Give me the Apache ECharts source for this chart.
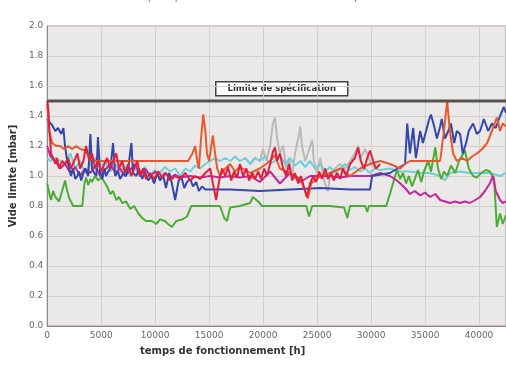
<!DOCTYPE html>
<html>
<head>
<meta charset="utf-8">
<script src="https://cdn.jsdelivr.net/npm/echarts@6/dist/echarts.min.js"></script>
<style>html,body{margin:0;padding:0;background:#fff;}#c{width:506px;height:365px;}</style>
</head>
<body>
<div id="c"></div>
<script>
// ---- data (hours / mbar) ----
const xTicks = [0, 5000, 10000, 15000, 20000, 25000, 30000, 35000, 40000];
const specLimit = 1.5;

const greenHours = [0,200,350,550,750,900,1100,1300,1500,1650,1850,2050,2200,2400,2850,3250,3450,3600,3800,4000,4150,4450,4700,5000,5300,5550,5850,6100,6400,6650,6950,7300,7700,8050,8450,8800,9150,9700,10100,10450,10900,11200,11550,11950,12500,12950,13350,14150,15100,16000,16400,16650,16950,17850,18800,19050,19550,19900,21550,23450,24000,24250,24550,26200,27500,27800,28050,29450,29650,29800,31400,31750,32150,32400,32700,32950,33250,33500,33800,34050,34350,34650,34900,35300,35550,35950,36200,36500,36750,37050,37400,37800,38150,38700,39050,39450,39800,40200,40650,41000,41400,41650,41950,42200,42500];
const greenVide = [0.95,0.88,0.84,0.9,0.86,0.87,0.83,0.88,0.93,0.97,0.9,0.85,0.83,0.8,0.8,0.8,0.95,0.99,0.94,0.98,0.96,1.0,0.97,0.99,0.96,0.93,0.88,0.9,0.84,0.86,0.82,0.83,0.78,0.8,0.75,0.72,0.7,0.7,0.68,0.71,0.7,0.68,0.66,0.7,0.71,0.73,0.8,0.8,0.8,0.8,0.72,0.7,0.79,0.8,0.82,0.86,0.83,0.8,0.8,0.8,0.8,0.73,0.8,0.8,0.79,0.72,0.8,0.8,0.76,0.8,0.8,0.88,0.98,1.04,0.98,1.02,0.95,1.0,0.93,0.98,1.04,0.96,1.03,1.1,1.03,1.19,1.05,0.98,1.03,1.0,1.07,1.02,1.1,1.17,1.05,1.0,0.99,1.02,1.04,1.03,0.98,0.66,0.75,0.68,0.74];

const blueHours = [0,200,450,750,1000,1300,1500,1650,1850,2050,2200,2400,2600,2800,2950,3150,3350,3500,3800,4000,4150,4350,4550,4700,4900,5100,5300,5450,5650,5850,6100,6300,6550,6750,7050,7300,7500,7800,7950,8250,8500,8800,9050,9350,9650,9900,10200,10450,10750,11000,11300,11550,11850,12150,12400,12700,12950,13250,13500,13800,14050,14350,14650,16950,19700,22500,25300,28050,29900,30100,31750,33150,33350,33600,33900,34150,34550,34800,35100,35350,35550,35850,36100,36400,36550,36850,37150,37400,37700,37950,38250,38500,38800,39050,39450,39800,40100,40450,40850,41200,41550,41950,42300,42500];
const blueVide = [1.38,1.36,1.34,1.3,1.32,1.28,1.32,1.2,1.1,1.05,1.0,1.05,0.98,1.0,1.03,0.97,1.02,1.05,1.0,1.28,1.05,1.02,1.0,1.26,1.02,0.98,1.05,1.0,1.03,1.05,1.22,1.0,1.03,0.98,1.02,1.0,1.05,1.22,1.02,1.0,1.05,0.98,1.03,0.97,1.0,0.95,1.02,0.97,1.0,0.92,1.02,0.95,0.84,0.96,1.0,0.92,0.96,0.98,0.93,0.96,0.9,0.93,0.91,0.91,0.9,0.91,0.92,0.91,0.91,1.0,1.02,1.08,1.35,1.15,1.32,1.12,1.3,1.22,1.3,1.37,1.41,1.33,1.25,1.33,1.38,1.25,1.3,1.35,1.22,1.3,1.28,1.15,1.22,1.3,1.35,1.28,1.3,1.38,1.3,1.35,1.32,1.4,1.46,1.42];

const redHours = [0,100,200,300,350,550,750,900,1100,1400,1650,1950,2200,2500,2800,3050,3350,3600,3900,4150,4450,4700,5000,5300,5550,5850,6100,6400,6650,6950,7200,7500,7800,8050,8350,8600,8900,9150,9550,9900,10300,10650,11000,11400,11850,12300,12800,13250,13700,14150,14650,15100,15350,15650,15950,16200,16500,16750,17050,17300,17600,17850,18150,18450,18700,19000,19250,19550,19800,20100,20350,20650,20900,21100,21300,21550,21850,22150,22400,22700,22950,23250,23500,23800,24050,24350,24650,24900,25200,25450,25750,26000,26300,26550,26850,27150,27400,27700,28050,28500,28800,29050,29350,29650,29900,30200,30450,30850];
const redVide = [1.5,1.45,1.3,1.22,1.15,1.12,1.08,1.12,1.05,1.1,1.08,1.12,1.05,1.1,1.15,1.05,1.1,1.2,1.1,1.15,1.05,1.1,1.03,1.08,1.12,1.05,1.1,1.15,1.05,1.1,1.02,1.08,1.0,1.05,1.1,1.0,1.05,0.98,1.02,0.98,1.03,0.99,1.02,0.97,1.0,0.98,1.02,0.97,1.0,0.98,1.02,1.05,0.95,0.84,0.98,1.05,1.0,1.06,0.97,1.03,0.99,1.08,1.0,1.05,0.97,1.02,0.98,1.03,0.98,1.05,1.0,1.08,1.16,1.19,1.1,1.15,1.05,1.0,1.08,0.97,1.02,0.95,1.0,0.92,0.86,0.95,1.0,0.96,1.03,0.98,1.05,0.98,1.02,0.97,1.02,0.98,1.05,1.0,1.08,1.12,1.19,1.1,1.05,1.12,1.17,1.1,1.05,1.08];

const orangeHours = [0,200,450,850,1200,1550,1950,2300,2700,3050,3500,4000,4450,4900,5850,6750,7700,8600,9550,10450,11400,12300,13050,13450,13700,13900,14050,14250,14450,14650,14800,15000,15200,15350,15550,15750,16000,16500,16950,17400,17850,18800,19700,20650,21100,21550,22500,23450,23900,24150,24450,25300,26200,27150,28050,29000,29900,30850,31750,32700,33150,33600,34550,35450,36400,36750,37050,37300,37600,37950,38450,38900,39350,39800,40300,40750,41200,41650,41950,42200,42500];
const orangeVide = [1.48,1.3,1.22,1.2,1.2,1.18,1.2,1.18,1.2,1.18,1.17,1.12,1.1,1.1,1.1,1.1,1.1,1.1,1.1,1.1,1.1,1.1,1.1,1.15,1.2,1.1,1.05,1.25,1.41,1.3,1.15,1.1,1.2,1.27,1.15,1.05,1.0,1.05,1.08,1.03,1.06,1.02,1.05,1.1,1.14,1.05,1.02,0.98,0.9,0.85,0.95,1.0,1.02,1.05,1.0,1.05,1.08,1.1,1.08,1.05,1.08,1.1,1.1,1.1,1.1,1.3,1.5,1.3,1.15,1.1,1.12,1.1,1.13,1.15,1.18,1.22,1.3,1.39,1.3,1.35,1.33];

const cyanHours = [0,300,750,1200,1650,2150,2600,3050,3500,4000,4450,4900,5350,5850,6300,6750,7200,7700,8150,8600,9050,9550,10000,10450,10900,11400,11850,12300,12800,13250,13700,14150,14650,15100,15550,16000,16500,16950,17400,17850,18350,18800,19250,19700,20200,20650,21100,21550,22050,22500,22950,23450,23900,24350,24800,25300,25750,26200,26650,27150,27600,28050,28500,29000,29450,29900,30350,30850,31750,32700,33600,34550,35450,36400,36850,37300,38250,39150,40100,41000,41950,42500];
const cyanVide = [1.12,1.1,1.12,1.1,1.08,1.15,1.05,1.1,1.02,1.08,1.12,1.05,1.1,1.03,1.08,1.02,1.07,1.0,1.05,1.02,1.06,1.0,1.04,1.02,1.06,1.03,1.05,1.0,1.05,1.03,1.07,1.05,1.08,1.1,1.12,1.1,1.12,1.1,1.13,1.1,1.12,1.08,1.12,1.1,1.13,1.08,1.1,1.14,1.08,1.12,1.07,1.1,1.06,1.1,1.05,1.08,1.03,1.06,1.02,1.05,1.08,1.04,1.06,1.03,1.05,1.02,1.05,1.04,1.05,1.03,1.03,1.02,1.02,1.0,0.97,1.02,1.03,1.02,1.02,1.02,1.0,1.02];

const magentaHours = [0,300,750,1200,1650,2150,2600,3050,3500,4000,4450,4900,5350,5850,6300,6750,7200,7700,8150,8600,9050,9550,10000,10450,10900,11400,11850,12300,13250,14150,15100,16000,16950,17850,18800,19700,20650,21550,22500,23450,24350,25300,26200,27150,28050,29000,29900,30850,31750,32400,33150,33600,34050,34550,35000,35450,35950,36400,36850,37300,37800,38250,38700,39150,39650,40100,40550,41000,41300,41550,41950,42200,42500];
const magentaVide = [1.2,1.13,1.1,1.05,1.08,1.02,1.06,1.0,1.05,1.02,1.07,1.0,1.04,1.08,1.02,1.05,1.0,1.04,1.08,1.0,1.05,1.0,1.03,0.98,1.02,0.99,1.01,0.99,1.0,0.99,1.0,0.99,1.0,0.99,1.0,0.96,1.03,0.95,1.02,0.96,1.0,1.0,1.0,0.99,1.0,1.0,1.0,1.02,1.0,0.97,0.92,0.88,0.9,0.87,0.89,0.86,0.88,0.84,0.83,0.82,0.83,0.82,0.83,0.82,0.84,0.86,0.9,0.95,1.0,0.9,0.84,0.82,0.83];

const grayHours = [18800,19250,19700,20000,20300,20650,20900,21100,21300,21550,21850,22150,22400,22700,22950,23250,23450,23600,23900,24150,24350,24550,24700,25000,25300,25550,25850,26000,26200,26650,27150,27600,28050,28500,28800,29050,29450,29900,30350];
const grayVide = [1.08,1.12,1.1,1.18,1.1,1.2,1.35,1.39,1.25,1.15,1.2,1.05,1.12,1.0,1.15,1.25,1.33,1.2,1.1,1.15,1.2,1.24,1.1,1.02,1.12,1.0,0.92,0.9,1.0,1.05,1.08,1.05,1.1,1.15,1.2,1.12,1.18,1.1,1.05];

const xMax = 42500;

function pairs(xs, ys) { return xs.map((x, i) => [x, ys[i]]); }
function line(name, xs, ys, color, w) {
  return { name, type: 'line', data: pairs(xs, ys), showSymbol: false, symbol: 'none',
    lineStyle: { color, width: w || 2 }, itemStyle: { color }, silent: true };
}

const chart = echarts.init(document.getElementById('c'), null, { renderer: 'canvas' });
chart.setOption({
  animation: false,
  backgroundColor: '#ffffff',
  grid: { left: 47, right: 0, top: 26, bottom: 39, show: true, backgroundColor: '#ebe8e8', borderColor: '#9a9a9a', borderWidth: 1 },
  xAxis: {
    type: 'value', min: 0, max: xMax, interval: 5000,
    axisLine: { show: true, onZero: false, lineStyle: { color: '#8a8a8a', width: 1 } },
    axisTick: { show: false },
    splitLine: { show: true, lineStyle: { color: '#d2cfcf', width: 1 } },
    axisLabel: { color: '#666', fontSize: 9, margin: 5, fontFamily: 'DejaVu Sans', showMaxLabel: false,
      formatter: v => xTicks.includes(v) ? String(v) : '' }
  },
  yAxis: {
    type: 'value', min: 0, max: 2, interval: 0.2,
    name: 'Vide limite [mbar]', nameLocation: 'middle', nameGap: 21, nameRotate: 90,
    nameTextStyle: { color: '#333', fontSize: 10, fontWeight: 'bold', fontFamily: 'DejaVu Sans' },
    axisLine: { show: true, lineStyle: { color: '#8a8a8a', width: 1 } },
    axisTick: { show: false },
    splitLine: { show: true, lineStyle: { color: '#d2cfcf', width: 1 } },
    axisLabel: { color: '#666', fontSize: 9, margin: 4, fontFamily: 'DejaVu Sans', formatter: v => v.toFixed(1) }
  },
  graphic: [
    { type: 'text', left: 55, top: -10, silent: true,
      style: { text: 'Vide limite des pompes à vide en fonction du temps de fonctionnement', fill: '#8a8a8a', fontSize: 12, fontFamily: 'DejaVu Sans' } },
    { type: 'text', left: 140, top: 346, silent: true,
      style: { text: 'temps de fonctionnement [h]', fill: '#333', fontSize: 10, fontWeight: 'bold', fontFamily: 'DejaVu Sans' } },
    { type: 'group', left: 215, top: 81, z: 100, children: [
      { type: 'rect', shape: { x: 0, y: 0, width: 132, height: 14 }, style: { fill: '#ffffff', stroke: '#444', lineWidth: 1.5 } },
      { type: 'text', x: 66, y: 7, style: { text: 'Limite de spécification', fill: '#333', fontSize: 8.5, fontWeight: 'bold', fontFamily: 'DejaVu Sans', align: 'center', verticalAlign: 'middle' } }
    ] }
  ],
  series: [
    line('gris', grayHours, grayVide, '#bdb8b8'),
    line('cyan', cyanHours, cyanVide, '#6fcfd6'),
    line('vert', greenHours, greenVide, '#4aae34'),
    line('magenta', magentaHours, magentaVide, '#c4279c'),
    line('bleu', blueHours, blueVide, '#3447aa'),
    line('orange', orangeHours, orangeVide, '#e8582c'),
    line('rouge', redHours, redVide, '#e0203c'),
    line('limite', [0, xMax], [specLimit, specLimit], '#575252', 3.2)
  ]
});
</script>
</body>
</html>
